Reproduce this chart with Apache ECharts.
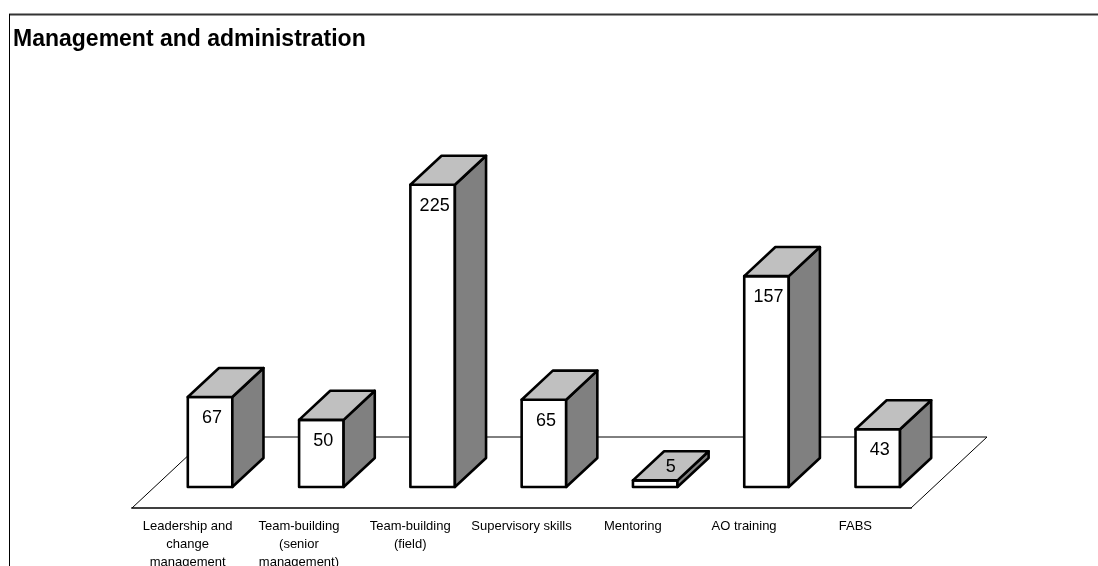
<!DOCTYPE html>
<html>
<head>
<meta charset="utf-8">
<script src="https://cdn.jsdelivr.net/npm/echarts@6/dist/echarts.min.js"></script>
<style>html,body{margin:0;padding:0;background:#fff}#chart{width:1098px;height:566px}</style>
</head>
<body>
<div id="chart"></div>
<script>
var categories = ['Leadership and\nchange\nmanagement', 'Team-building\n(senior\nmanagement)', 'Team-building\n(field)', 'Supervisory skills', 'Mentoring', 'AO training', 'FABS'];
var values = [67, 50, 225, 65, 5, 157, 43];

var FONT = '"Liberation Sans", Arial, sans-serif';
var chart = echarts.init(document.getElementById('chart'));

// floor depth in px, bar front/depth as fraction of floor depth
var FLOOR_DX = 76, FLOOR_DY = -71;
var FRONT = 0.295, DEPTH = 0.41;

function renderFloor(params, api) {
  var cs = params.coordSys;
  var x0 = cs.x, x1 = cs.x + cs.width, y0 = cs.y + cs.height;
  return {
    type: 'polyline',
    shape: {points: [[x0, y0], [x0 + FLOOR_DX, y0 + FLOOR_DY], [x1 + FLOOR_DX, y0 + FLOOR_DY], [x1, y0]]},
    style: {stroke: '#000', lineWidth: 1, fill: null}
  };
}

function renderBar(params, api) {
  var base = api.coord([api.value(0), 0]);
  var top = api.coord([api.value(0), api.value(1)]);
  var band = api.size([1, 0])[0];
  var w = band * 0.4;
  var fx = FLOOR_DX * FRONT, fy = FLOOR_DY * FRONT;
  var dx = FLOOR_DX * DEPTH, dy = FLOOR_DY * DEPTH;
  var l = base[0] + fx - w / 2, r = l + w;
  var b = base[1] + fy, t = top[1] + fy;
  var h = b - t;
  var lx, ly;
  if (h > 30) {
    lx = (l + r) / 2 + 2; ly = t + 21;
  } else {
    lx = (l + r) / 2 + dx / 2; ly = t + dy / 2 + 1;
  }
  function st(fill) {
    return {fill: fill, stroke: '#000', lineWidth: 2.6, lineJoin: 'round'};
  }
  return {
    type: 'group',
    children: [
      {type: 'polygon', shape: {points: [[l, b], [r, b], [r, t], [l, t]]}, style: st('#fff')},
      {type: 'polygon', shape: {points: [[r, b], [r + dx, b + dy], [r + dx, t + dy], [r, t]]}, style: st('#808080')},
      {type: 'polygon', shape: {points: [[l, t], [r, t], [r + dx, t + dy], [l + dx, t + dy]]}, style: st('#c0c0c0')},
      {type: 'text', style: {text: String(api.value(1)), x: lx, y: ly, fill: '#000', font: '18px ' + FONT, align: 'center', verticalAlign: 'middle'}}
    ]
  };
}

var option = {
  animation: false,
  title: {
    text: 'Management and administration',
    left: 8,
    top: 23,
    textStyle: {fontSize: 23, fontWeight: 'bold', color: '#000', fontFamily: FONT}
  },
  grid: {left: 132, right: 187, top: 105, bottom: 58, containLabel: false, outerBoundsMode: 'none'},
  xAxis: {
    type: 'category',
    data: categories,
    axisLine: {lineStyle: {color: '#404040', width: 2}},
    axisTick: {length: 6, lineStyle: {color: '#404040', width: 1}},
    axisLabel: {interval: 0, margin: 9, fontSize: 13, lineHeight: 18, color: '#000', fontFamily: FONT}
  },
  yAxis: {type: 'value', min: 0, max: 300, show: false},
  graphic: [
    {type: 'line', shape: {x1: 9, y1: 14.5, x2: 1098, y2: 14.5}, style: {stroke: '#333', lineWidth: 2}},
    {type: 'line', shape: {x1: 9.5, y1: 14, x2: 9.5, y2: 566}, style: {stroke: '#000', lineWidth: 1}}
  ],
  series: [
    {type: 'custom', renderItem: renderFloor, data: [[0, 0]], z: 1, silent: true},
    {type: 'custom', renderItem: renderBar, data: values.map(function (v, i) { return [i, v]; }), encode: {x: 0, y: 1}, z: 3}
  ]
};

chart.setOption(option);
</script>
</body>
</html>
